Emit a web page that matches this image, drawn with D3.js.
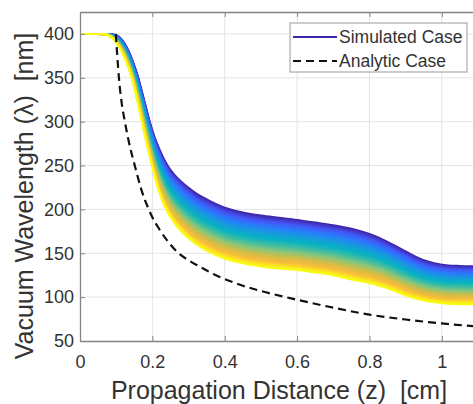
<!DOCTYPE html>
<html>
<head>
<meta charset="utf-8">
<script src="https://cdn.jsdelivr.net/npm/d3@7"></script>
<style>
  html, body { margin: 0; padding: 0; background: #fff; }
  svg { display: block; }
  text { font-family: "Liberation Sans", Arial, sans-serif; }
</style>
</head>
<body>
<svg id="chart" width="473" height="404"></svg>
<script>
// ---- data ----
const zGrid = [0, 0.05, 0.07, 0.08, 0.09, 0.1, 0.11, 0.12, 0.13, 0.14, 0.15, 0.16, 0.17, 0.18, 0.19, 0.2,
  0.21, 0.22, 0.23, 0.24, 0.25, 0.26, 0.28, 0.3, 0.32, 0.35, 0.4, 0.45, 0.5, 0.55, 0.6, 0.65, 0.7, 0.75,
  0.8, 0.85, 0.9, 0.95, 1.0, 1.05, 1.1];
// upper (blue) edge of the simulated bundle
const simTop = [400, 400, 400, 400, 399.5, 398.5, 396, 391, 384, 375, 364, 351.5, 336, 320, 304, 290,
  278, 268, 259, 251.5, 245, 240, 231.5, 224.5, 218.5, 211.5, 202, 196.5, 193, 190.5, 188, 185, 182, 178,
  172, 163, 152, 142, 137, 135.5, 135];
// lower (yellow) edge of the simulated bundle
const simBottom = [400, 400, 399.5, 398, 395, 390, 384, 376, 366, 354, 339, 321, 302, 283, 265, 248,
  232, 218.5, 207.5, 198.5, 191, 185, 175, 167, 160.5, 153, 144, 138.5, 135, 132.5, 131, 128, 125, 120,
  116, 110, 102, 96, 93, 92, 92];
// analytic case
const anaZ = [0.099, 0.103, 0.108, 0.115, 0.124, 0.135, 0.152, 0.17, 0.189, 0.2, 0.22, 0.24, 0.27, 0.3,
  0.33, 0.37, 0.41, 0.45, 0.5, 0.6, 0.7, 0.8, 0.9, 1.0, 1.1];
const anaL = [400, 375, 348, 322, 300, 277, 249, 222, 201, 191, 177, 165, 151, 142,
  135, 126, 119, 113, 107, 97, 88, 80, 74.5, 70, 66.5];

const xTicks = [0, 0.2, 0.4, 0.6, 0.8, 1];
const xTickLabels = ["0", "0.2", "0.4", "0.6", "0.8", "1"];
const yTicks = [50, 100, 150, 200, 250, 300, 350, 400];
const yTickLabels = ["50", "100", "150", "200", "250", "300", "350", "400"];
const legendLabels = ["Simulated Case", "Analytic Case"];
const xTitle = "Propagation Distance (z)  [cm]";
const yTitle = "Vacuum Wavelength (\u03bb)  [nm]";

// parula-like colour stops
const parulaStops = ["#3e26a8", "#4656f6", "#277efb", "#189bdb", "#06b1c4", "#3abda4",
  "#89c67a", "#d1bd48", "#fbbc3a", "#f9fb14"];

// ---- layout ----
const svg = d3.select("#chart");
const L = 80, T = 12, B = 341, R = 478;
const x = d3.scaleLinear().domain([0, 1.1]).range([L, R]);
const y = d3.scaleLinear().domain([50, 425]).range([B, T]);
const parula = d3.scaleLinear()
  .domain(parulaStops.map((_, i) => i / (parulaStops.length - 1)))
  .range(parulaStops).interpolate(d3.interpolateRgb);

svg.append("defs").append("clipPath").attr("id", "clip")
  .append("rect").attr("x", L).attr("y", T).attr("width", R - L).attr("height", B - T);

// grid
const grid = svg.append("g").attr("stroke", "#e4e4e4").attr("stroke-width", 1);
xTicks.filter(d => d > 0).forEach(d => grid.append("line")
  .attr("x1", x(d)).attr("x2", x(d)).attr("y1", T).attr("y2", B));
yTicks.filter(d => d > 50).forEach(d => grid.append("line")
  .attr("x1", L).attr("x2", R).attr("y1", y(d)).attr("y2", y(d)));

// simulated bundle
const plot = svg.append("g").attr("clip-path", "url(#clip)");
const nCurves = 50;
const line = d3.line().x(d => x(d[0])).y(d => y(d[1])).curve(d3.curveMonotoneX);
for (let i = 0; i < nCurves; i++) {
  const t = i / (nCurves - 1);
  const pts = zGrid.map((z, j) => [z, simTop[j] * (1 - t) + simBottom[j] * t]);
  plot.append("path").attr("d", line(pts)).attr("fill", "none")
    .attr("stroke", parula(t)).attr("stroke-width", 2);
}
// analytic
plot.append("path").attr("d", line(anaZ.map((z, i) => [z, anaL[i]])))
  .attr("fill", "none").attr("stroke", "#111").attr("stroke-width", 2.2)
  .attr("stroke-dasharray", "8,5");

// axes
const axisColor = "#858585";
const xAxis = svg.append("g").attr("transform", `translate(0,${B})`)
  .call(d3.axisBottom(x).tickValues(xTicks).tickFormat((d, i) => xTickLabels[i])
    .tickSizeInner(-5).tickSizeOuter(0).tickPadding(14));
const xTop = svg.append("g").attr("transform", `translate(0,${T})`)
  .call(d3.axisTop(x).tickValues(xTicks).tickFormat("").tickSizeInner(-5).tickSizeOuter(0));
const yAxis = svg.append("g").attr("transform", `translate(${L},0)`)
  .call(d3.axisLeft(y).tickValues(yTicks).tickFormat((d, i) => yTickLabels[i])
    .tickSizeInner(-5).tickSizeOuter(0).tickPadding(6));
[xAxis, xTop, yAxis].forEach(g => {
  g.select(".domain").attr("stroke", axisColor).attr("stroke-width", 1.3);
  g.selectAll(".tick line").attr("stroke", axisColor);
  g.selectAll(".tick text").attr("fill", "#333").attr("font-size", 18)
    .attr("font-family", "Liberation Sans, Arial, sans-serif");
});

// axis titles
svg.append("text").attr("x", 279).attr("y", 399).attr("text-anchor", "middle")
  .attr("font-size", 25).attr("fill", "#333").style("white-space", "pre").text(xTitle);
svg.append("text").attr("transform", "translate(33,196) rotate(-90)").attr("text-anchor", "middle")
  .attr("font-size", 25).attr("fill", "#333").style("white-space", "pre").text(yTitle);

// legend
const lg = svg.append("g");
lg.append("rect").attr("x", 290).attr("y", 23).attr("width", 177).attr("height", 49)
  .attr("fill", "#fff").attr("stroke", "#999").attr("stroke-width", 1);
lg.append("line").attr("x1", 293).attr("x2", 337).attr("y1", 37).attr("y2", 37)
  .attr("stroke", parula(0)).attr("stroke-width", 2);
lg.append("line").attr("x1", 293).attr("x2", 337).attr("y1", 61).attr("y2", 61)
  .attr("stroke", "#111").attr("stroke-width", 2.2).attr("stroke-dasharray", "8,5");
legendLabels.forEach((s, i) => lg.append("text").attr("x", 339).attr("y", 37 + i * 24)
  .attr("dy", "0.35em").attr("font-size", 17.5).attr("fill", "#333").text(s));
</script>
</body>
</html>
